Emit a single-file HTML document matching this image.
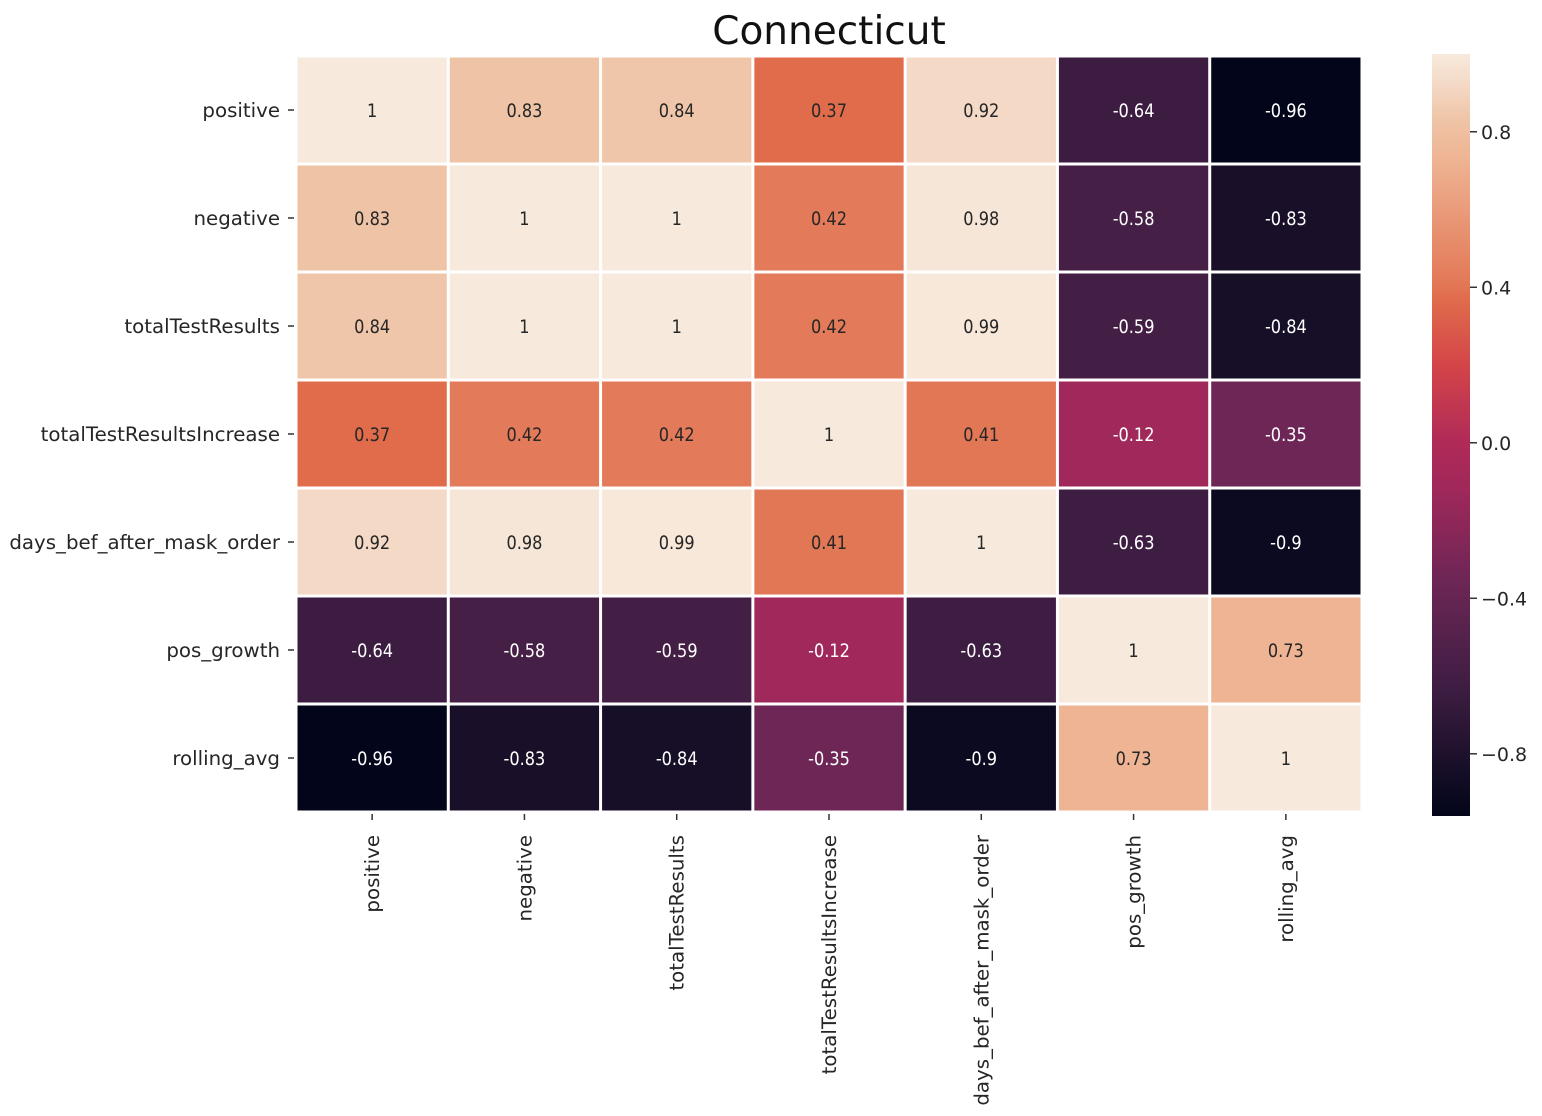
<!DOCTYPE html>
<html><head><meta charset="utf-8"><style>
html,body{margin:0;padding:0;background:#fff;}
svg{display:block;font-family:"DejaVu Sans","Liberation Sans",sans-serif;}
</style></head><body>
<svg id="chart" width="1542" height="1116" viewBox="0 0 1542 1116" xmlns="http://www.w3.org/2000/svg">
<defs>
<linearGradient id="rocket" x1="0" y1="1" x2="0" y2="0">
<stop offset="0" stop-color="#03051a"/><stop offset="0.031" stop-color="#0c0a20"/>
<stop offset="0.168" stop-color="#3e1d42"/><stop offset="0.194" stop-color="#461f46"/>
<stop offset="0.311" stop-color="#6e2656"/><stop offset="0.429" stop-color="#a0285a"/>
<stop offset="0.49" stop-color="#b02a58"/><stop offset="0.592" stop-color="#d44548"/>
<stop offset="0.679" stop-color="#e06c4c"/><stop offset="0.704" stop-color="#e37a59"/>
<stop offset="0.862" stop-color="#eeb493"/><stop offset="0.913" stop-color="#efc4a6"/>
<stop offset="0.959" stop-color="#f4d9c6"/><stop offset="1" stop-color="#f7eadc"/>
</linearGradient>
</defs>
<text x="829" y="44" font-size="39" text-anchor="middle" fill="#111">Connecticut</text>
<g id="cells"></g><g id="labels"></g>
<rect x="1432" y="54" width="38" height="762" fill="url(#rocket)"/>
<g id="cbticks"></g>
</svg>
<script>
const labels=["positive","negative","totalTestResults","totalTestResultsIncrease","days_bef_after_mask_order","pos_growth","rolling_avg"];
const row0=[1,0.83,0.84,0.37,0.92,-0.64,-0.96];
const row1=[0.83,1,1,0.42,0.98,-0.58,-0.83];
const row2=[0.84,1,1,0.42,0.99,-0.59,-0.84];
const row3=[0.37,0.42,0.42,1,0.41,-0.12,-0.35];
const row4=[0.92,0.98,0.99,0.41,1,-0.63,-0.9];
const row5=[-0.64,-0.58,-0.59,-0.12,-0.63,1,0.73];
const row6=[-0.96,-0.83,-0.84,-0.35,-0.9,0.73,1];
const matrix=[row0,row1,row2,row3,row4,row5,row6];
const cbTicks=[0.8,0.4,0.0,-0.4,-0.8];
const vmin=-0.96,vmax=1;
const NS="http://www.w3.org/2000/svg";
const X0=296,X1=1362,Y0=56,Y1=812;
const cw=(X1-X0)/labels.length,ch=(Y1-Y0)/labels.length;
const xPos=i=>X0+i*cw, yPos=j=>Y0+j*ch;
const hex=h=>[1,3,5].map(i=>parseInt(h.substr(i,2),16));
const stops=[[0,"#03051a"],[0.031,"#0c0a20"],[0.168,"#3e1d42"],[0.194,"#461f46"],[0.311,"#6e2656"],[0.429,"#a0285a"],[0.49,"#b02a58"],[0.592,"#d44548"],[0.679,"#e06c4c"],[0.704,"#e37a59"],[0.862,"#eeb493"],[0.913,"#efc4a6"],[0.959,"#f4d9c6"],[1,"#f7eadc"]].map(s=>[s[0],hex(s[1])]);
function color(v){let t=(v-vmin)/(vmax-vmin);t=Math.max(0,Math.min(1,t));
 for(let k=1;k<stops.length;k++){if(t<=stops[k][0]){const a=stops[k-1],b=stops[k];const f=(t-a[0])/(b[0]-a[0]);
 return a[1].map((c,i)=>Math.round(c+(b[1][i]-c)*f));}}return stops[stops.length-1][1];}
function mk(tag,attrs,parent){const e=document.createElementNS(NS,tag);for(const k in attrs)e.setAttribute(k,attrs[k]);parent.appendChild(e);return e;}
const cells=document.getElementById('cells'),lab=document.getElementById('labels'),cbt=document.getElementById('cbticks');
const cbY=v=>54+(vmax-v)/(vmax-vmin)*762;
matrix.forEach((row,j)=>row.forEach((v,i)=>{
 const c=color(v);
 const r=mk('rect',{x:xPos(i)+1.5,y:yPos(j)+1.5,width:cw-3,height:ch-3,fill:`rgb(${c})`},cells);
 
 
 const lum=(0.2126*c[0]+0.7152*c[1]+0.0722*c[2])/255;
 const cx=xPos(i)+cw/2;
 const t=mk('text',{x:0,y:0,'font-size':19,'text-anchor':'middle',fill:lum>0.5?'#262626':'#fff',transform:`translate(${cx},${yPos(j)+ch/2+7}) scale(0.85,1)`},cells);
 t.textContent=String(v);
 
 
}));
labels.forEach((l,j)=>{
 const y=yPos(j)+ch/2;
 mk('line',{x1:288,x2:294,y1:y,y2:y,stroke:'#333','stroke-width':1.5},lab);
 const t=mk('text',{x:280,y:y+7,'font-size':19.8,'text-anchor':'end',fill:'#262626'},lab);
 t.textContent=l;
 
 
 const x=xPos(j)+cw/2;
 mk('line',{x1:x,x2:x,y1:814,y2:820,stroke:'#333','stroke-width':1.5},lab);
 const t2=mk('text',{x:0,y:0,'font-size':19.8,'text-anchor':'end',fill:'#262626',transform:`translate(${x+7},835) rotate(-90)`},lab);
 t2.textContent=l;
 
 
});
cbTicks.forEach(v=>{
 const y=cbY(v);
 mk('line',{x1:1470,x2:1477,y1:y,y2:y,stroke:'#333','stroke-width':1.5},cbt);
 const t=mk('text',{x:1481,y:y+7,'font-size':19,fill:'#262626'},cbt);
 t.textContent=(v<0?'\u2212':'')+Math.abs(v).toFixed(1);
 
 
});
</script>
</body></html>
